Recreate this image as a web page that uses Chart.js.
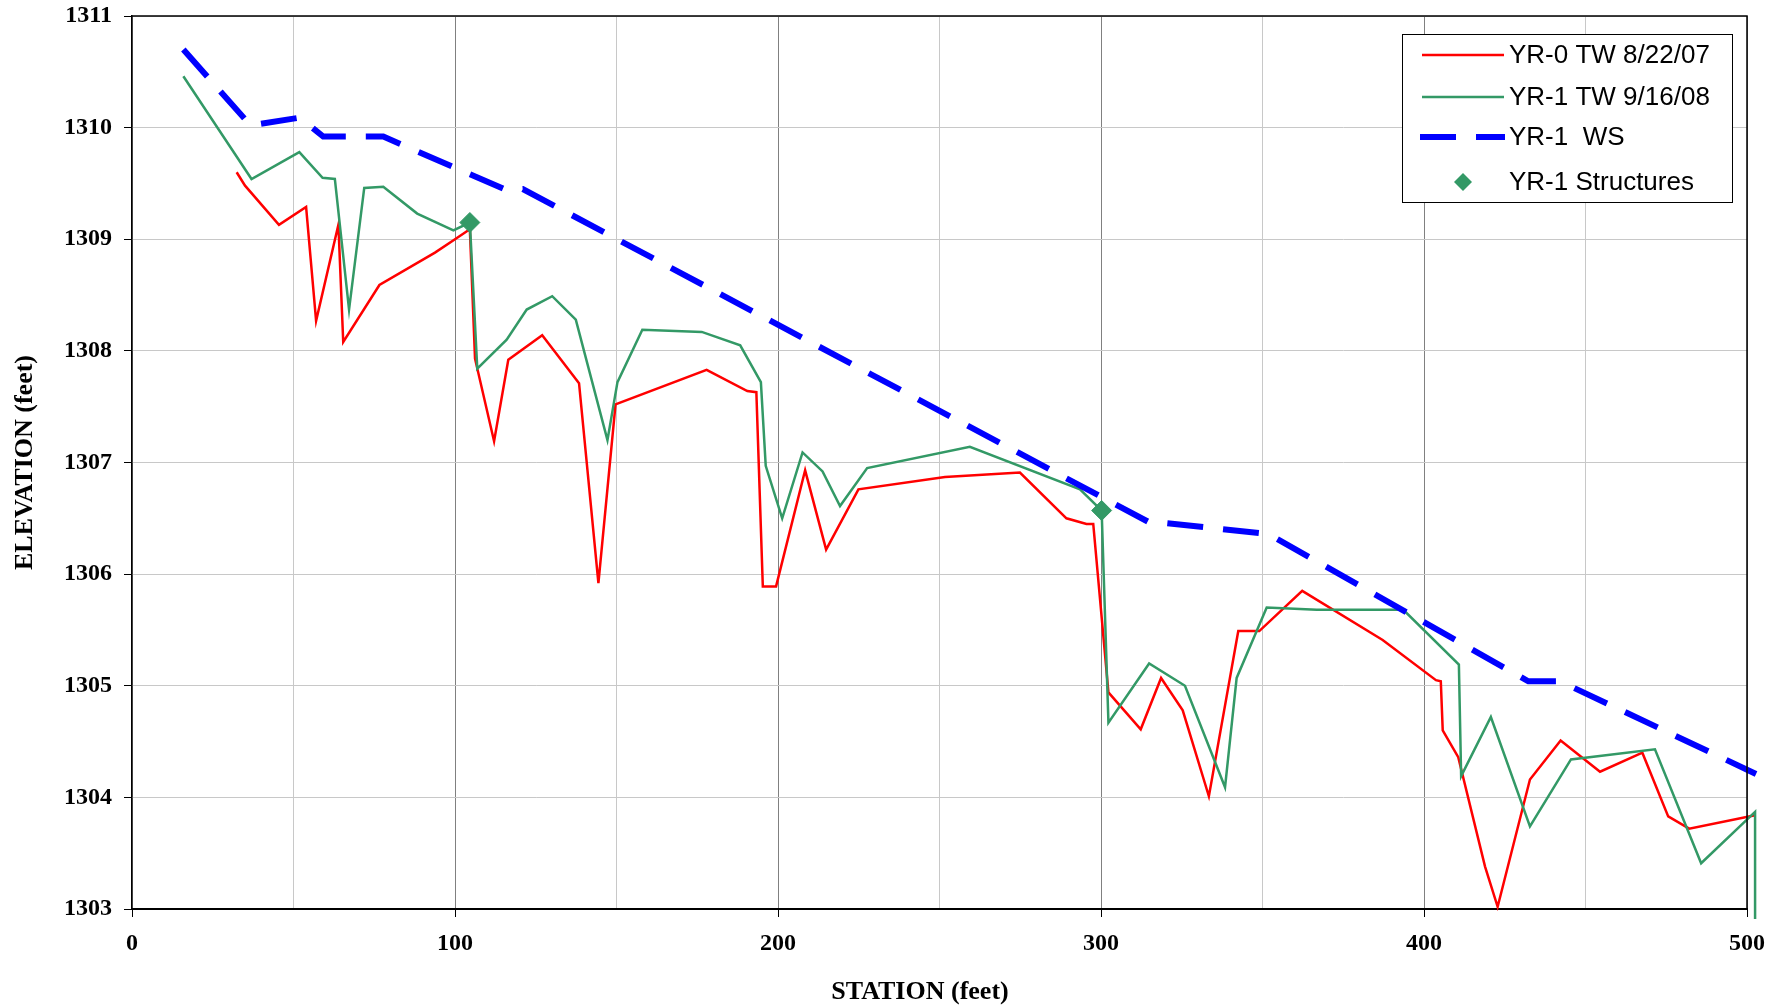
<!DOCTYPE html>
<html>
<head>
<meta charset="utf-8">
<script src="https://cdn.jsdelivr.net/npm/chart.js@4.4.1/dist/chart.umd.min.js"></script>
<style>
  html, body { margin: 0; padding: 0; background: #ffffff; }
  #wrap { width: 1781px; height: 1008px; }
</style>
</head>
<body>
<div id="wrap"><canvas id="c" width="1781" height="1008"></canvas></div>
<script>
// ---- data ----
const xTicks = [0, 100, 200, 300, 400, 500];
const yTicks = [1303, 1304, 1305, 1306, 1307, 1308, 1309, 1310, 1311];

const yr0Station = [32.4, 35.0, 45.5, 53.9, 57.0, 63.9, 65.4, 76.6, 93.8, 100.0, 104.6, 106.2, 112.1, 116.5, 127.0, 138.4, 144.4, 149.7, 177.9, 190.5, 193.3, 195.3, 199.4, 208.4, 214.9, 224.9, 251.7, 274.9, 289.3, 295.5, 297.6, 302.3, 312.3, 318.6, 325.3, 333.4, 342.5, 349.0, 362.3, 387.2, 403.7, 405.2, 405.8, 410.6, 418.9, 422.8, 432.8, 442.3, 454.5, 467.6, 475.6, 482.1, 502.5];
const yr0Elev    = [1309.60, 1309.48, 1309.13, 1309.29, 1308.27, 1309.13, 1308.08, 1308.59, 1308.88, 1309.00, 1309.09, 1307.93, 1307.19, 1307.92, 1308.14, 1307.71, 1305.92, 1307.52, 1307.83, 1307.64, 1307.63, 1305.89, 1305.89, 1306.93, 1306.22, 1306.76, 1306.87, 1306.91, 1306.50, 1306.45, 1306.45, 1304.94, 1304.61, 1305.07, 1304.78, 1304.01, 1305.49, 1305.49, 1305.85, 1305.41, 1305.05, 1305.04, 1304.60, 1304.36, 1303.38, 1303.02, 1304.16, 1304.51, 1304.23, 1304.40, 1303.83, 1303.72, 1303.84];

const yr1Station = [15.9, 37.0, 51.8, 59.0, 62.8, 67.2, 71.9, 77.8, 88.3, 99.5, 104.6, 106.9, 116.0, 122.2, 130.1, 137.4, 147.2, 150.3, 158.0, 176.4, 188.3, 194.7, 196.2, 201.3, 207.6, 213.8, 219.2, 227.6, 259.4, 293.5, 300.2, 302.3, 314.9, 326.0, 338.4, 342.0, 351.3, 366.8, 393.6, 410.8, 411.5, 420.7, 432.8, 445.5, 471.5, 485.8, 502.5, 502.5];
const yr1Elev    = [1310.46, 1309.54, 1309.78, 1309.55, 1309.54, 1308.37, 1309.46, 1309.47, 1309.23, 1309.08, 1309.15, 1307.84, 1308.10, 1308.37, 1308.49, 1308.28, 1307.20, 1307.72, 1308.19, 1308.17, 1308.05, 1307.72, 1306.97, 1306.50, 1307.09, 1306.92, 1306.61, 1306.95, 1307.14, 1306.76, 1306.57, 1304.67, 1305.20, 1305.00, 1304.09, 1305.07, 1305.70, 1305.68, 1305.68, 1305.19, 1304.19, 1304.72, 1303.74, 1304.34, 1304.43, 1303.41, 1303.87, 1302.90];

const wsStation = [15.9, 36.7, 52.0, 59.2, 77.8, 116.0, 121.0, 315.2, 319.0, 351.8, 432.3, 442.1, 502.8];
const wsElev    = [1310.70, 1310.02, 1310.09, 1309.92, 1309.92, 1309.44, 1309.45, 1306.46, 1306.46, 1306.36, 1305.04, 1305.04, 1304.21];

const structStation = [104.6, 300.2];
const structElev    = [1309.15, 1306.57];

const seriesNames = ['YR-0 TW 8/22/07', 'YR-1 TW 9/16/08', 'YR-1  WS', 'YR-1 Structures'];
const xTitle = 'STATION (feet)';
const yTitle = 'ELEVATION (feet)';

// ---- build ----
const pts = (xs, ys) => xs.map((x, i) => ({ x: x, y: ys[i] }));
const RED = '#ff0000', GREEN = '#339966', BLUE = '#0000ff';
const lineClip = { left: 0, top: 0, right: 12, bottom: 10 };

const serifBold = { family: '"Liberation Serif", "Times New Roman", serif', weight: 'bold', size: 24 };

const frameAndLegend = {
  id: 'frameAndLegend',
  afterDatasetsDraw(chart) {
    const ctx = chart.ctx;
    const a = chart.chartArea;
    ctx.save();
    ctx.strokeStyle = '#000';
    ctx.lineWidth = 1.5;
    ctx.beginPath();
    ctx.moveTo(a.left, a.top);
    ctx.lineTo(a.right, a.top);
    ctx.lineTo(a.right, a.bottom);
    ctx.stroke();

    const bx = a.right - 345, by = a.top + 18, bw = 330, bh = 168;
    ctx.fillStyle = '#fff';
    ctx.fillRect(bx, by, bw, bh);
    ctx.strokeStyle = '#000';
    ctx.lineWidth = 1;
    ctx.strokeRect(bx + 0.5, by + 0.5, bw, bh);

    const rows = [21, 63, 103, 148];
    ctx.font = '26px "Liberation Sans", Arial, sans-serif';
    ctx.textBaseline = 'middle';
    ctx.textAlign = 'left';
    const x0 = bx + 20, x1 = bx + 102;
    ctx.strokeStyle = RED; ctx.lineWidth = 2.5;
    ctx.beginPath(); ctx.moveTo(x0, by + rows[0]); ctx.lineTo(x1, by + rows[0]); ctx.stroke();
    ctx.strokeStyle = GREEN; ctx.lineWidth = 2.5;
    ctx.beginPath(); ctx.moveTo(x0, by + rows[1]); ctx.lineTo(x1, by + rows[1]); ctx.stroke();
    ctx.strokeStyle = BLUE; ctx.lineWidth = 6;
    ctx.beginPath(); ctx.moveTo(x0 - 2, by + rows[2]); ctx.lineTo(x0 + 34, by + rows[2]);
    ctx.moveTo(x0 + 54, by + rows[2]); ctx.lineTo(x1 + 1, by + rows[2]); ctx.stroke();
    const dx = bx + 61, dy = by + rows[3], r = 9;
    ctx.fillStyle = GREEN;
    ctx.beginPath(); ctx.moveTo(dx, dy - r); ctx.lineTo(dx + r, dy); ctx.lineTo(dx, dy + r); ctx.lineTo(dx - r, dy); ctx.closePath(); ctx.fill();

    ctx.fillStyle = '#000';
    seriesNames.forEach((n, i) => ctx.fillText(n, bx + 107, by + rows[i] + 1));

    ctx.font = 'bold 26px "Liberation Serif", "Times New Roman", serif';
    ctx.textAlign = 'center';
    ctx.fillText(xTitle, 920, 992);
    ctx.restore();
  }
};

new Chart(document.getElementById('c'), {
  type: 'line',
  data: {
    datasets: [
      { label: seriesNames[0], data: pts(yr0Station, yr0Elev), borderColor: RED, borderWidth: 2.5,
        pointRadius: 0, tension: 0, fill: false, order: 3, clip: lineClip },
      { label: seriesNames[1], data: pts(yr1Station, yr1Elev), borderColor: GREEN, borderWidth: 2.5,
        pointRadius: 0, tension: 0, fill: false, order: 2, clip: lineClip },
      { label: seriesNames[2], data: pts(wsStation, wsElev), borderColor: BLUE, borderWidth: 6,
        borderDash: [36, 20], borderCapStyle: 'butt', pointRadius: 0, tension: 0, fill: false, order: 1, clip: lineClip },
      { label: seriesNames[3], data: pts(structStation, structElev), showLine: false,
        pointStyle: 'rectRot', pointRadius: 10, pointBackgroundColor: GREEN, pointBorderColor: GREEN,
        pointBorderWidth: 1, order: 0, clip: lineClip }
    ]
  },
  options: {
    responsive: false,
    animation: false,
    layout: { padding: { top: 16, right: 34, bottom: 0, left: 0 } },
    plugins: { legend: { display: false }, tooltip: { enabled: false }, title: { display: false } },
    scales: {
      x: {
        type: 'linear',
        afterDataLimits: (s) => { s.min = xTicks[0]; s.max = xTicks[xTicks.length - 1]; },
        afterFit: (s) => { s.height = 99; s.paddingLeft = 0; s.paddingRight = 0; },
        ticks: {
          stepSize: 50,
          autoSkip: false,
          maxRotation: 0,
          padding: 12,
          color: '#000',
          font: serifBold,
          callback: (v) => (xTicks.includes(v) ? String(v) : '')
        },
        grid: {
          color: (c) => (c.tick && c.tick.value % 100 === 0 ? '#808080' : '#c8c8c8'),
          tickColor: (c) => (c.tick && c.tick.value % 100 === 0 ? '#000' : 'rgba(0,0,0,0)'),
          tickLength: 8,
          lineWidth: 1
        },
        border: { color: '#000', width: 2 },
        title: { display: false }
      },
      y: {
        type: 'linear',
        min: yTicks[0],
        max: yTicks[yTicks.length - 1],
        afterFit: (s) => { s.width = 132; s.paddingTop = 0; s.paddingBottom = 0; },
        afterBuildTicks: (s) => { s.ticks = yTicks.map(v => ({ value: v })); },
        ticks: {
          padding: 12,
          color: '#000',
          font: serifBold,
          callback: (v) => String(v)
        },
        grid: { color: '#c8c8c8', tickColor: '#000', tickLength: 8, lineWidth: 1 },
        border: { color: '#000', width: 1.5 },
        title: {
          display: true,
          text: yTitle,
          color: '#000',
          font: { family: '"Liberation Serif", "Times New Roman", serif', weight: 'bold', size: 26 },
          padding: { top: 10, bottom: 0 }
        }
      }
    }
  },
  plugins: [frameAndLegend]
});
</script>
</body>
</html>
